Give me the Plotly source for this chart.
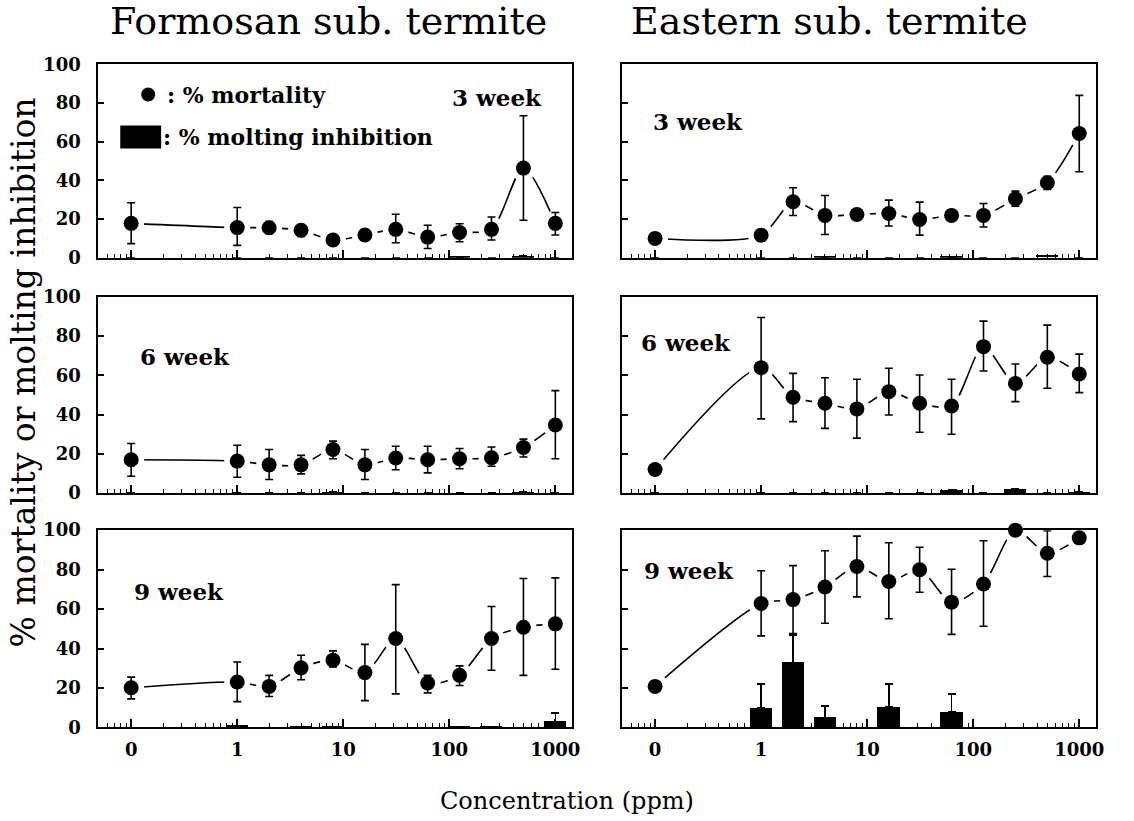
import numpy as np
import plotly.graph_objects as go

# ---------------- data ----------------
conc = [0, 1, 2, 4, 8, 16, 31.25, 62.5, 125, 250, 500, 1000]
tick_labels = ["0", "1", "10", "100", "1000"]
tick_conc = [0, 1, 10, 100, 1000]

# Formosan, 3 week
f3_mort = [17.8, 15.6, 15.5, 14.2, 9.2, 11.8, 14.7, 10.7, 13.1, 14.7, 46.4, 17.8]
f3_up = [28.5, 26.0, 18.7, 17.0, 10.5, 13.0, 22.5, 16.8, 17.6, 21.1, 73.5, 23.4]
f3_lo = [7.3, 6.4, 12.5, 11.0, 8.0, 10.5, 7.8, 4.8, 8.3, 9.2, 19.4, 11.8]
f3_molt = [0, 0, 0, 0, 0, 0, 0, 0, 0.5, 0, 0.8, 0]
f3_molt_up = [0, 0, 0, 0, 0, 0, 0, 0, 0.5, 0, 0.8, 0]

# Eastern, 3 week
e3_mort = [10.0, 11.7, 29.0, 21.9, 22.4, 22.9, 19.8, 21.9, 21.9, 30.5, 38.8, 64.3]
e3_up = [10.0, 14.6, 36.2, 32.2, 22.4, 29.8, 28.8, 21.9, 28.1, 34.5, 42.2, 84.0]
e3_lo = [10.0, 8.6, 21.9, 12.0, 22.4, 16.4, 11.7, 21.9, 15.9, 26.7, 35.3, 44.5]
e3_molt = [0, 0, 0, 0.5, 0, 0, 0, 0.5, 0, 0, 1.2, 0]
e3_molt_up = [0, 0, 0, 0.5, 0, 0, 0, 0.5, 0, 0, 1.2, 0]

# Formosan, 6 week
f6_mort = [17.0, 16.3, 14.4, 14.4, 22.2, 14.4, 17.9, 17.0, 17.5, 18.0, 23.2, 34.7]
f6_up = [25.3, 24.4, 22.2, 19.2, 26.5, 22.2, 23.9, 23.9, 22.7, 23.5, 27.5, 52.2]
f6_lo = [8.6, 8.1, 6.9, 9.8, 17.5, 6.9, 11.9, 10.3, 12.4, 13.7, 18.4, 17.5]
f6_molt = [0, 0, 0, 0, 0.8, 0, 0, 0, 0, 0, 0.5, 0]
f6_molt_up = [0, 0, 0, 0, 0.8, 0, 0, 0, 0, 0, 0.5, 0]

# Eastern, 6 week
e6_mort = [12.0, 63.9, 48.8, 45.8, 42.9, 51.7, 45.8, 44.4, 74.6, 55.9, 69.2, 60.7]
e6_up = [12.0, 89.5, 61.0, 58.8, 58.0, 63.6, 60.2, 58.0, 87.6, 65.8, 85.6, 70.8]
e6_lo = [12.0, 37.8, 36.4, 33.0, 28.0, 39.8, 31.0, 30.0, 62.2, 46.6, 53.4, 51.2]
e6_molt = [0, 0, 0, 0, 0, 0, 0, 1.5, 0, 2.0, 0, 0.8]
e6_molt_up = [0, 0, 0, 0, 0, 0, 0, 1.5, 0, 2.0, 0, 0.8]

# Formosan, 9 week
f9_mort = [20.1, 23.0, 20.8, 30.2, 34.1, 27.8, 45.1, 22.5, 26.4, 45.1, 50.8, 52.5]
f9_up = [25.5, 33.2, 26.4, 36.6, 38.8, 42.1, 72.4, 26.4, 31.2, 61.3, 75.5, 75.8]
f9_lo = [14.5, 13.1, 15.7, 24.2, 30.7, 13.6, 17.0, 17.5, 21.3, 29.0, 26.4, 29.5]
f9_molt = [0, 1.0, 0, 0.4, 0.5, 0, 0, 0, 0.4, 0.5, 0, 3.0]
f9_molt_up = [0, 1.0, 0, 0.4, 0.5, 0, 0, 0, 0.4, 0.5, 0, 7.2]

# Eastern, 9 week
e9_mort = [20.8, 62.8, 64.8, 71.2, 81.6, 74.0, 79.9, 63.5, 72.7, 100.0, 88.3, 96.1]
e9_up = [20.8, 79.4, 82.0, 89.6, 97.0, 93.6, 91.3, 80.2, 94.6, 100.0, 99.7, 96.1]
e9_lo = [20.8, 46.4, 47.6, 52.8, 66.2, 55.1, 68.5, 47.2, 51.3, 100.0, 76.5, 96.1]
e9_molt = [0, 10.0, 33.0, 5.0, 0, 10.5, 0, 8.0, 0, 0, 0, 0]
e9_molt_up = [0, 22.0, 47.0, 11.0, 0, 22.0, 0, 17.0, 0, 0, 0, 0]

week_labels = ["3 week", "3 week", "6 week", "6 week", "9 week", "9 week"]
col_titles = ["Formosan sub. termite", "Eastern sub. termite"]

# ---------------- helpers ----------------
XR = [-1.31, 3.16]

def pos(c):
    # "0" (untreated control) is placed one decade below 1 ppm
    return float(np.log10(c)) if c > 0 else -1.0

xpos = [pos(c) for c in conc]
major_vals = [pos(c) for c in tick_conc]
minor_vals = []
for n in range(-2, 3):
    for k in range(2, 10):
        v = float(np.log10(k * 10.0 ** n))
        if XR[0] <= v <= XR[1]:
            minor_vals.append(v)

panels = [
    (f3_mort, f3_up, f3_lo, f3_molt, f3_molt_up),
    (e3_mort, e3_up, e3_lo, e3_molt, e3_molt_up),
    (f6_mort, f6_up, f6_lo, f6_molt, f6_molt_up),
    (e6_mort, e6_up, e6_lo, e6_molt, e6_molt_up),
    (f9_mort, f9_up, f9_lo, f9_molt, f9_molt_up),
    (e9_mort, e9_up, e9_lo, e9_molt, e9_molt_up),
]

W, H = 1134, 821
# page-pixel -> paper fraction (with a small empirical correction for the capture)
def px(x):
    return ((x + 1.5) / 0.995) / W
def py(y):
    return 1 - ((y - 11.6) / 0.973) / H

col_dom = [[px(97), px(572)], [px(622), px(1097)]]
row_dom = [[py(258), py(65)], [py(493), py(297)], [py(727), py(530)]]

SERIF = "DejaVu Serif"
fig = go.Figure()
layout = {}

for i, (mort, up, lo, molt, molt_up) in enumerate(panels):
    r, c = divmod(i, 2)
    n = i + 1
    xa = "x" if n == 1 else f"x{n}"
    ya = "y" if n == 1 else f"y{n}"

    fig.add_trace(go.Bar(
        x=xpos, y=molt, width=0.21, xaxis=xa, yaxis=ya,
        marker=dict(color="black", line=dict(width=0)),
        error_y=dict(type="data", symmetric=False,
                     array=[u - m for u, m in zip(molt_up, molt)],
                     arrayminus=[0] * len(molt),
                     color="black", thickness=1.6, width=4),
        showlegend=False))
    fig.add_trace(go.Scatter(
        x=xpos, y=mort, mode="lines", xaxis=xa, yaxis=ya,
        line=dict(color="black", width=1.6, shape="spline", smoothing=0.8),
        cliponaxis=False, showlegend=False))
    fig.add_trace(go.Scatter(
        x=xpos, y=mort, mode="markers", xaxis=xa, yaxis=ya,
        marker=dict(color="white", size=26, line=dict(width=0)),
        cliponaxis=False, showlegend=False))
    fig.add_trace(go.Scatter(
        x=xpos, y=mort, mode="markers", xaxis=xa, yaxis=ya,
        marker=dict(color="black", size=15, line=dict(width=0)),
        error_y=dict(type="data", symmetric=False,
                     array=[u - m for u, m in zip(up, mort)],
                     arrayminus=[m - l for m, l in zip(mort, lo)],
                     color="black", thickness=1.6, width=4),
        cliponaxis=False, showlegend=False))

    xkey = "xaxis" if n == 1 else f"xaxis{n}"
    ykey = "yaxis" if n == 1 else f"yaxis{n}"
    layout[xkey] = dict(
        domain=col_dom[c], anchor=ya, range=XR,
        tickmode="array", tickvals=major_vals, ticktext=tick_labels,
        ticks="inside", ticklen=8, tickwidth=1.5, tickcolor="black",
        minor=dict(tickmode="array", tickvals=minor_vals, ticks="inside",
                   ticklen=4, tickwidth=1.2, tickcolor="black"),
        showticklabels=(r == 2), ticklabelstandoff=5,
        tickfont=dict(family=SERIF, size=18, color="black", weight="bold"),
        showline=True, linewidth=2, linecolor="black", mirror=True,
        showgrid=False, zeroline=False)
    layout[ykey] = dict(
        domain=row_dom[r], anchor=xa, range=[0, 100],
        tickmode="array", tickvals=[0, 20, 40, 60, 80, 100],
        ticks="inside", ticklen=6, tickwidth=1.5, tickcolor="black",
        showticklabels=(c == 0), ticklabelstandoff=12,
        tickfont=dict(family=SERIF, size=18, color="black", weight="bold"),
        showline=True, linewidth=2, linecolor="black", mirror=True,
        showgrid=False, zeroline=False)

annotations = []
def ann(text, x, y, size, bold=False, xanchor="center", angle=0):
    annotations.append(dict(
        text=text, x=px(x), y=py(y), xref="paper", yref="paper",
        xanchor=xanchor, yanchor="middle", showarrow=False, textangle=angle,
        font=dict(family=SERIF, size=size, color="black",
                  weight="bold" if bold else "normal")))

ann(col_titles[0], 328, 22, 38)
ann(col_titles[1], 830, 22, 38)
ann("% mortality or molting inhibition", 22, 372, 33, angle=-90)
ann("Concentration (ppm)", 567, 800, 24)

week_pos = [(449, 98), (651, 122), (137, 357), (639, 343), (131, 591), (642, 570)]
for lab, (x, y) in zip(week_labels, week_pos):
    ann(lab, x, y, 23, bold=True, xanchor="left")

ann(": % mortality", 164, 95, 22, bold=True, xanchor="left")
ann(": % molting inhibition", 160, 137, 22, bold=True, xanchor="left")

shapes = [
    dict(type="circle", xref="paper", yref="paper",
         x0=px(140), x1=px(154), y0=py(102), y1=py(88),
         fillcolor="black", line=dict(width=0)),
    dict(type="rect", xref="paper", yref="paper",
         x0=px(119), x1=px(160), y0=py(149), y1=py(126),
         fillcolor="black", line=dict(width=0)),
]

fig.update_layout(
    width=W, height=H, margin=dict(l=0, r=0, t=0, b=0),
    autosize=False,
    paper_bgcolor="white", plot_bgcolor="white",
    showlegend=False, bargap=0, annotations=annotations, shapes=shapes,
    **layout)

fig.write_html("out.html",
               config={"responsive": False, "displayModeBar": False},
               post_script="document.body.style.margin='0';"
                           "document.body.style.overflow='hidden';")
